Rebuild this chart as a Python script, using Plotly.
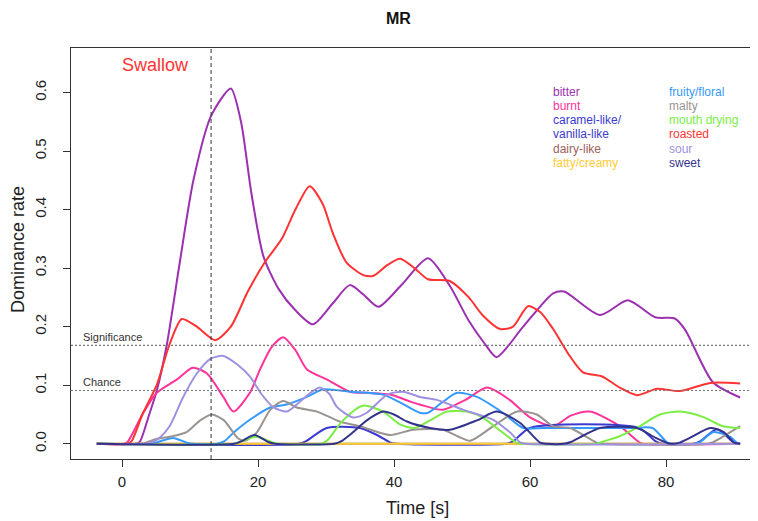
import plotly.graph_objects as go

# ---------------- data ----------------
attributes = ["bitter", "burnt", "caramel-like/vanilla-like", "dairy-like", "fatty/creamy",
              "fruity/floral", "malty", "mouth drying", "roasted", "sour", "sweet"]

bitter_x = [-3.7, 2.0, 2.6, 4.0, 5.1, 6.6, 8.5, 10.5, 13.1, 16.0, 17.5, 19.0, 20.8, 23.0, 25.5, 28.1, 31.0, 33.5,
            35.5, 37.7, 41.0, 45.0, 48.2, 51.0, 53.4, 55.1, 59.0, 63.4, 65.0, 70.3, 74.4, 78.4, 81.3, 82.8, 86.9, 90.9]
bitter_y = [0, 0, 0.003, 0.05, 0.09, 0.17, 0.31, 0.45, 0.56, 0.607, 0.55, 0.43, 0.32, 0.265, 0.228, 0.204, 0.24, 0.271,
            0.255, 0.234, 0.27, 0.317, 0.27, 0.21, 0.17, 0.148, 0.2, 0.257, 0.26, 0.22, 0.245, 0.216, 0.214, 0.195, 0.105, 0.079]

burnt_x = [-3.7, 0.2, 0.8, 3.0, 5.1, 8.1, 10.4, 12.5, 14.9, 16.4, 18.8, 20.3, 22.0, 23.7, 25.5, 27.2, 30.1, 33.5, 36.0,
           39.4, 42.4, 43.8, 47.2, 50.5, 53.7, 57.0, 60.0, 63.4, 66.0, 68.8, 73.2, 76.0, 76.6, 90.9]
burnt_y = [0, 0, 0.003, 0.05, 0.087, 0.11, 0.13, 0.12, 0.08, 0.055, 0.087, 0.127, 0.165, 0.182, 0.16, 0.127, 0.11, 0.089, 0.087,
           0.084, 0.072, 0.067, 0.058, 0.075, 0.096, 0.075, 0.045, 0.03, 0.048, 0.055, 0.03, 0.003, 0, 0]

caramel_x = [-3.7, 26.0, 27.0, 30.1, 35.0, 37.5, 39.5, 40.5, 56.5, 57.5, 60.0, 76.0, 78.5, 79.5, 84.0, 85.0, 87.5, 90.0, 90.9]
caramel_y = [0, 0, 0.004, 0.027, 0.027, 0.015, 0.002, 0, 0, 0.004, 0.027, 0.027, 0.004, 0, 0, 0.004, 0.025, 0.002, 0]

dairy_x = [-3.7, 90.9]
dairy_y = [0, 0]

fatty_x = [-3.7, 90.9]
fatty_y = [0, 0]

fruity_x = [-3.7, 4.0, 5.0, 7.5, 9.5, 10.5, 14.0, 15.0, 16.5, 18.8, 21.8, 24.2, 27.2, 29.6, 33.5, 38.4, 41.0, 43.8, 45.0,
            47.0, 49.3, 52.2, 56.0, 59.0, 62.0, 67.4, 75.0, 78.0, 80.2, 81.0, 84.2, 85.0, 87.0, 89.4, 90.4, 90.9]
fruity_y = [0, 0, 0.002, 0.01, 0.002, 0, 0, 0.004, 0.02, 0.041, 0.062, 0.067, 0.08, 0.093, 0.089, 0.084, 0.07, 0.053, 0.053,
            0.07, 0.087, 0.08, 0.053, 0.027, 0.027, 0.027, 0.027, 0.027, 0.002, 0, 0, 0.003, 0.02, 0.012, 0.002, 0]

malty_x = [-3.7, 2.5, 3.5, 5.0, 7.0, 9.5, 11.5, 13.2, 15.0, 17.0, 18.0, 19.8, 21.8, 23.7, 25.7, 28.7, 32.0, 35.0, 39.4,
           42.8, 47.2, 49.5, 51.2, 54.6, 58.1, 61.0, 63.4, 65.9, 69.8, 70.6, 86.2, 87.0, 90.9]
malty_y = [0, 0, 0.002, 0.008, 0.012, 0.02, 0.04, 0.05, 0.04, 0.01, 0.005, 0.019, 0.058, 0.073, 0.062, 0.055, 0.038, 0.03, 0.015,
           0.024, 0.024, 0.012, 0.005, 0.03, 0.055, 0.05, 0.03, 0.027, 0.002, 0, 0, 0.003, 0.03]

drying_x = [-3.7, 16.5, 17.5, 19.7, 22.0, 23.0, 29.3, 30.2, 32.5, 35.4, 38.4, 40.9, 43.0, 45.3, 47.8, 50.7, 53.0, 55.1,
            58.0, 59.0, 69.8, 70.8, 73.0, 75.7, 79.1, 82.0, 85.4, 88.4, 90.9]
drying_y = [0, 0, 0.004, 0.012, 0.003, 0, 0, 0.006, 0.04, 0.065, 0.055, 0.033, 0.027, 0.04, 0.055, 0.055, 0.045, 0.027,
            0.002, 0, 0, 0.004, 0.012, 0.027, 0.05, 0.055, 0.046, 0.03, 0.027]

roasted_x = [-3.7, 0.8, 1.4, 3.0, 5.1, 7.0, 8.8, 11.0, 13.7, 16.0, 18.5, 21.0, 23.5, 25.5, 27.6, 29.5, 31.0, 33.0, 35.5,
             37.0, 39.0, 40.9, 43.0, 45.0, 48.2, 51.0, 53.0, 55.6, 57.5, 59.7, 61.5, 63.4, 65.9, 67.8, 70.6, 73.2,
             75.7, 78.7, 82.0, 86.5, 90.9]
roasted_y = [0, 0, 0.004, 0.05, 0.1, 0.17, 0.213, 0.2, 0.177, 0.2, 0.26, 0.31, 0.35, 0.4, 0.44, 0.41, 0.36, 0.31, 0.288,
             0.287, 0.305, 0.316, 0.3, 0.281, 0.278, 0.25, 0.22, 0.196, 0.2, 0.235, 0.225, 0.196, 0.149, 0.122, 0.115,
             0.096, 0.083, 0.094, 0.09, 0.104, 0.103]

sour_x = [-3.7, 3.5, 4.5, 5.5, 7.0, 9.0, 11.0, 13.0, 14.9, 17.0, 18.8, 20.5, 22.2, 24.2, 25.7, 27.5, 29.1, 30.5, 31.6,
          34.0, 36.0, 39.0, 41.3, 43.8, 46.3, 50.2, 54.6, 57.0, 58.6, 59.4, 90.9]
sour_y = [0, 0, 0.003, 0.01, 0.03, 0.08, 0.12, 0.145, 0.15, 0.135, 0.115, 0.085, 0.063, 0.055, 0.067, 0.085, 0.096, 0.085,
          0.063, 0.045, 0.053, 0.084, 0.089, 0.08, 0.075, 0.058, 0.041, 0.02, 0.002, 0, 0]

sweet_x = [-3.7, 16.5, 17.5, 19.5, 21.5, 22.5, 31.2, 32.2, 34.0, 36.0, 38.4, 40.0, 41.9, 45.3, 48.2, 52.2, 55.1, 58.5,
           61.5, 62.5, 65.0, 66.0, 68.0, 70.3, 75.7, 78.5, 80.3, 81.0, 82.0, 83.5, 86.5, 88.5, 90.0, 90.9]
sweet_y = [0, 0, 0.004, 0.015, 0.003, 0, 0, 0.004, 0.02, 0.04, 0.055, 0.05, 0.038, 0.027, 0.024, 0.04, 0.055, 0.036,
           0.002, 0, 0, 0.003, 0.015, 0.027, 0.027, 0.01, 0.001, 0, 0.002, 0.01, 0.027, 0.02, 0.002, 0]

swallow_time = 13.1
significance_level = 0.168
chance_level = 0.091
x_ticks = [0, 20, 40, 60, 80]
y_ticks = [0.0, 0.1, 0.2, 0.3, 0.4, 0.5, 0.6]
y_tick_text = ["0.0", "0.1", "0.2", "0.3", "0.4", "0.5", "0.6"]

colors = {
    "bitter": "#9b30b0", "burnt": "#ff3399", "caramel-like/vanilla-like": "#3a3ad0",
    "dairy-like": "#a0605a", "fatty/creamy": "#ffcc33", "fruity/floral": "#3399ff",
    "malty": "#9a9490", "mouth drying": "#7aee44", "roasted": "#ff3333",
    "sour": "#a090e0", "sweet": "#33338c",
}

series = {
    "bitter": (bitter_x, bitter_y), "burnt": (burnt_x, burnt_y),
    "caramel-like/vanilla-like": (caramel_x, caramel_y), "dairy-like": (dairy_x, dairy_y),
    "fatty/creamy": (fatty_x, fatty_y), "fruity/floral": (fruity_x, fruity_y),
    "malty": (malty_x, malty_y), "mouth drying": (drying_x, drying_y),
    "roasted": (roasted_x, roasted_y), "sour": (sour_x, sour_y), "sweet": (sweet_x, sweet_y),
}

# ---------------- geometry ----------------
# page body has an 8px margin, so the figure is placed 8px right/down of the window corner
OFF = 8
W, H = 758 - OFF, 521 - OFF
L, T, R, B = 71 - OFF, 48 - OFF, 758 - OFF, 459 - OFF


def px(xp):
    return (xp - OFF - L) / (R - L)


def py(yp):
    return (B - (yp - OFF)) / (B - T)


FONT = "Liberation Sans, Arial, sans-serif"

fig = go.Figure()
for name in attributes:
    xs, ys = series[name]
    fig.add_trace(go.Scatter(x=xs, y=ys, mode="lines", name=name,
                             line=dict(color=colors[name], width=2, shape="spline", smoothing=0.7),
                             showlegend=False, hoverinfo="skip"))

# reference lines
fig.add_shape(type="line", xref="x", yref="paper", x0=swallow_time, x1=swallow_time, y0=0, y1=1,
              line=dict(color="#333333", width=1, dash="4px,3px"))
for lvl in (significance_level, chance_level):
    fig.add_shape(type="line", xref="paper", yref="y", x0=0, x1=1, y0=lvl, y1=lvl,
                  line=dict(color="#777777", width=1.2, dash="2px,2px"))


def text_at(text, xp, yp, size, color, xanchor="center", angle=0):
    return dict(text=text, x=px(xp), y=py(yp), xref="paper", yref="paper", showarrow=False,
                xanchor=xanchor, yanchor="middle", textangle=angle,
                font=dict(size=size, color=color, family=FONT))


ann = [
    text_at("<b>MR</b>", 398, 18, 16, "#111111"),
    text_at("Time [s]", 417, 508, 18, "#222222"),
    text_at("Dominance rate", 18, 250, 18, "#222222", angle=-90),
    text_at("Swallow", 120, 65, 18, "#ff3333", xanchor="left"),
    text_at("Significance", 81, 337, 11, "#333333", xanchor="left"),
    text_at("Chance", 81, 382, 11, "#333333", xanchor="left"),
]

left_col = [("bitter", "bitter"), ("burnt", "burnt"), ("caramel-like/", "caramel-like/vanilla-like"),
            ("vanilla-like", "caramel-like/vanilla-like"), ("dairy-like", "dairy-like"),
            ("fatty/creamy", "fatty/creamy")]
right_col = [("fruity/floral", "fruity/floral"), ("malty", "malty"), ("mouth drying", "mouth drying"),
             ("roasted", "roasted"), ("sour", "sour"), ("sweet", "sweet")]
rows = [92, 106, 120, 134, 149, 163]
for (label, key), yy in zip(left_col, rows):
    ann.append(text_at(label, 551, yy, 12, colors[key], xanchor="left"))
for (label, key), yy in zip(right_col, rows):
    ann.append(text_at(label, 667, yy, 12, colors[key], xanchor="left"))

fig.update_layout(
    width=W, height=H,
    margin=dict(l=L, r=W - R, t=T, b=H - B, autoexpand=False),
    paper_bgcolor="white", plot_bgcolor="white",
    annotations=ann,
    font=dict(family=FONT),
)
fig.update_xaxes(range=[-7.5, (758 - 122) / 6.8], tickvals=x_ticks, showgrid=False, zeroline=False,
                 showline=True, mirror=True, linecolor="#333333", linewidth=1, automargin=False,
                 ticks="outside", ticklen=7, tickcolor="#333333",
                 tickfont=dict(size=15, color="#222222", family=FONT), ticklabelstandoff=2)
fig.update_yaxes(range=[-0.026, 0.676], tickvals=y_ticks, ticktext=y_tick_text, tickangle=-90,
                 showgrid=False, zeroline=False, showline=True, linecolor="#333333", linewidth=1,
                 automargin=False, ticks="outside", ticklen=7, tickcolor="#333333",
                 tickfont=dict(size=15, color="#222222", family=FONT), ticklabelstandoff=11)

fig.write_html("out.html")
